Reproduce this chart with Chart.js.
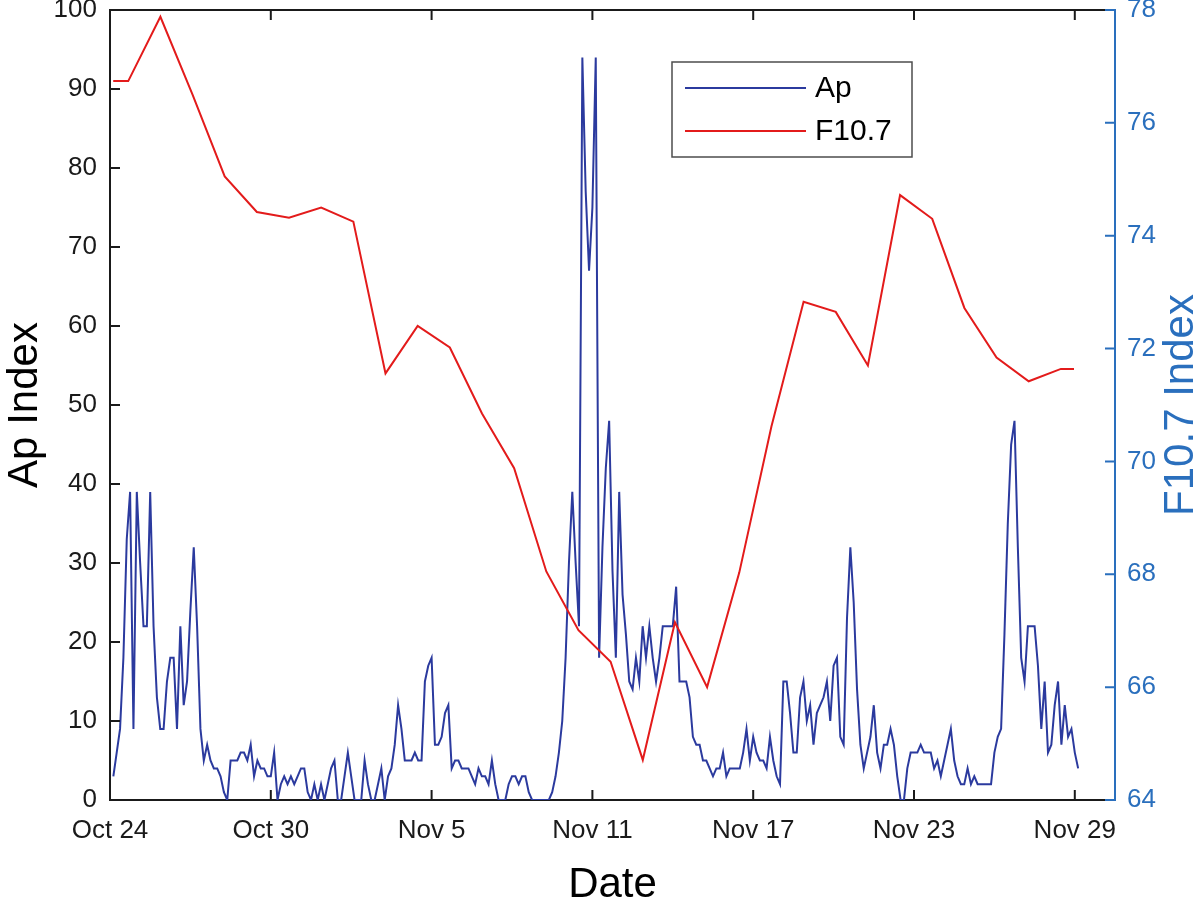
<!DOCTYPE html>
<html>
<head>
<meta charset="utf-8">
<script src="https://cdn.jsdelivr.net/npm/chart.js@4.4.1/dist/chart.umd.min.js"></script>
<style>
  html, body { margin: 0; padding: 0; background: #fff; }
  #wrap { width: 1200px; height: 903px; }
</style>
</head>
<body>
<div id="wrap"><canvas id="chart"></canvas></div>
<script>
// x axis is in days since Oct 24
const xTickDays = [0, 6, 12, 18, 24, 30, 36]
const xTickLabels = ["Oct 24", "Oct 30", "Nov 5", "Nov 11", "Nov 17", "Nov 23", "Nov 29"]

// Ap index, 3-hourly, first value at Oct 24 03:00
const apStartDay = 0.125
const apStepDay = 0.125
const apValues = [
  3, 6, 9, 18, 33, 39, 9,
  39, 30, 22, 22, 39, 22, 13, 9,
  9, 15, 18, 18, 9, 22, 12, 15,
  24, 32, 22, 9, 5, 7, 5, 4,
  4, 3, 1, 0, 5, 5, 5, 6,
  6, 5, 7, 3, 5, 4, 4, 3,
  3, 6, 0, 2, 3, 2, 3, 2,
  3, 4, 4, 1, 0, 2, 0, 2,
  0, 2, 4, 5, 0, 0, 3, 6,
  3, 0, 0, 0, 5, 2, 0, 0,
  2, 4, 0, 3, 4, 7, 12, 9,
  5, 5, 5, 6, 5, 5, 15, 17,
  18, 7, 7, 8, 11, 12, 4, 5,
  5, 4, 4, 4, 3, 2, 4, 3,
  3, 2, 5, 2, 0, 0, 0, 2,
  3, 3, 2, 3, 3, 1, 0, 0,
  0, 0, 0, 0, 1, 3, 6, 10,
  18, 30, 39, 30, 22, 94, 77, 67,
  75, 94, 18, 32, 42, 48, 29, 18,
  39, 26, 21, 15, 14, 18, 15, 22,
  18, 22, 18, 15, 18, 22, 22, 22,
  22, 27, 15, 15, 15, 13, 8, 7,
  7, 5, 5, 4, 3, 4, 4, 6,
  3, 4, 4, 4, 4, 6, 9, 5,
  8, 6, 5, 5, 4, 8, 5, 3,
  2, 15, 15, 11, 6, 6, 13, 15,
  10, 12, 7, 11, 12, 13, 15, 10,
  17, 18, 8, 7, 23, 32, 25, 14,
  7, 4, 6, 8, 12, 6, 4, 7,
  7, 9, 7, 3, 0, 0, 4, 6,
  6, 6, 7, 6, 6, 6, 4, 5,
  3, 5, 7, 9, 5, 3, 2, 2,
  4, 2, 3, 2, 2, 2, 2, 2,
  6, 8, 9, 21, 35, 45, 48, 32,
  18, 15, 22, 22, 22, 17, 9, 15,
  6, 7, 12, 15, 7, 12, 8, 9,
  6, 4
]

// F10.7 flux
const f107Days = [0.12, 0.68, 1.88, 3.08, 4.28, 5.48, 6.68, 7.88, 9.08, 10.28, 11.48, 12.68,
  13.88, 15.08, 16.28, 17.48, 18.68, 19.88, 21.08, 22.28, 23.48, 24.68, 25.88, 27.08,
  28.28, 29.48, 30.68, 31.88, 33.08, 34.28, 35.48, 35.97]
const f107Values = [76.74, 76.74, 77.88, 76.5, 75.05, 74.42, 74.32, 74.5, 74.25, 71.56, 72.4, 72.02,
  70.85, 69.88, 68.05, 67.01, 66.45, 64.71, 67.15, 66.0, 68.03, 70.62, 72.83, 72.65,
  71.7, 74.72, 74.3, 72.72, 71.84, 71.42, 71.64, 71.64]

const FONT = "'Liberation Sans', Arial, sans-serif"
const black = "#1a1a1a"
const rightBlue = "#2a6fbd"
const apColor = "#2b3a9e"
const f107Color = "#e31b1b"

const apPoints = apValues.map((v, i) => ({ x: apStartDay + i * apStepDay, y: v }))
const f107Points = f107Days.map((d, i) => ({ x: d, y: f107Values[i] }))

// y scales: let the labels overhang the plot instead of shrinking it
const noOverhang = (w) => (s) => {
  s.width = w
  s.paddingTop = 0
  s.paddingBottom = 0
}

// inward ticks, top frame line, right title and legend box
const matlabFrame = {
  id: "matlabFrame",
  afterDraw(chart) {
    const { ctx, chartArea: a, scales } = chart
    const tick = 10
    ctx.save()
    ctx.lineWidth = 2

    ctx.strokeStyle = black
    ctx.beginPath()
    ctx.moveTo(a.left, a.top)
    ctx.lineTo(a.right, a.top)
    scales.x.ticks.forEach((t) => {
      const px = scales.x.getPixelForValue(t.value)
      ctx.moveTo(px, a.bottom)
      ctx.lineTo(px, a.bottom - tick)
      ctx.moveTo(px, a.top)
      ctx.lineTo(px, a.top + tick)
    })
    scales.y.ticks.forEach((t) => {
      const py = scales.y.getPixelForValue(t.value)
      ctx.moveTo(a.left, py)
      ctx.lineTo(a.left + tick, py)
    })
    ctx.stroke()

    ctx.strokeStyle = rightBlue
    ctx.beginPath()
    scales.y2.ticks.forEach((t) => {
      const py = scales.y2.getPixelForValue(t.value)
      ctx.moveTo(a.right, py)
      ctx.lineTo(a.right - tick, py)
    })
    ctx.stroke()

    // right axis title reads bottom to top
    ctx.translate(1181, (a.top + a.bottom) / 2)
    ctx.rotate(-Math.PI / 2)
    ctx.fillStyle = rightBlue
    ctx.font = "42px " + FONT
    ctx.textAlign = "center"
    ctx.textBaseline = "middle"
    ctx.fillText("F10.7 Index", 0, 0)
    ctx.setTransform(1, 0, 0, 1, 0, 0)

    // legend
    const lx = 672, ly = 62, lw = 240, lh = 95
    ctx.fillStyle = "#fff"
    ctx.fillRect(lx, ly, lw, lh)
    ctx.strokeStyle = "#4d4d4d"
    ctx.lineWidth = 1.5
    ctx.strokeRect(lx, ly, lw, lh)
    ctx.font = "30px " + FONT
    ctx.textAlign = "left"
    ctx.textBaseline = "middle"
    chart.data.datasets.forEach((ds, k) => {
      const yy = 88 + k * 43
      ctx.strokeStyle = ds.borderColor
      ctx.lineWidth = 2
      ctx.beginPath()
      ctx.moveTo(685, yy)
      ctx.lineTo(806, yy)
      ctx.stroke()
      ctx.fillStyle = "#000"
      ctx.fillText(ds.label, 815, yy + 1)
    })
    ctx.restore()
  }
}

new Chart(document.getElementById("chart"), {
  type: "line",
  data: {
    datasets: [
      {
        label: "Ap",
        data: apPoints,
        borderColor: apColor,
        borderWidth: 2,
        pointRadius: 0,
        tension: 0,
        yAxisID: "y",
        order: 1
      },
      {
        label: "F10.7",
        data: f107Points,
        borderColor: f107Color,
        borderWidth: 2,
        pointRadius: 0,
        tension: 0,
        yAxisID: "y2",
        order: 0
      }
    ]
  },
  options: {
    responsive: true,
    maintainAspectRatio: false,
    animation: false,
    devicePixelRatio: 1,
    parsing: false,
    layout: { padding: { top: 10, left: 0, right: 0, bottom: 0 } },
    plugins: {
      legend: { display: false },
      tooltip: { enabled: false }
    },
    scales: {
      x: {
        type: "linear",
        min: 0,
        max: 37.5,
        afterBuildTicks: (s) => { s.ticks = xTickDays.map((v) => ({ value: v })) },
        afterFit: (s) => {
          s.height = 103
          s.paddingLeft = 0
          s.paddingRight = 0
        },
        ticks: {
          autoSkip: false,
          maxRotation: 0,
          padding: 15,
          color: black,
          font: { size: 26, family: FONT },
          callback: (v) => xTickLabels[xTickDays.indexOf(v)]
        },
        grid: { drawOnChartArea: false, drawTicks: false },
        border: { display: true, color: black, width: 2 },
        title: {
          display: true,
          text: "Date",
          color: "#000",
          font: { size: 42, family: FONT },
          padding: { top: 0, bottom: -8 }
        }
      },
      y: {
        position: "left",
        min: 0,
        max: 100,
        afterFit: noOverhang(110),
        ticks: {
          stepSize: 10,
          padding: 13,
          color: black,
          font: { size: 26, family: FONT }
        },
        grid: { drawOnChartArea: false, drawTicks: false },
        border: { display: true, color: black, width: 2 },
        title: {
          display: true,
          text: "Ap Index",
          color: "#000",
          font: { size: 42, family: FONT },
          padding: { top: 0, bottom: 0 }
        }
      },
      y2: {
        position: "right",
        min: 64,
        max: 78,
        afterFit: noOverhang(85),
        ticks: {
          stepSize: 2,
          padding: 12,
          color: rightBlue,
          font: { size: 26, family: FONT }
        },
        grid: { drawOnChartArea: false, drawTicks: false },
        border: { display: true, color: rightBlue, width: 2 }
      }
    }
  },
  plugins: [matlabFrame]
})
</script>
</body>
</html>
